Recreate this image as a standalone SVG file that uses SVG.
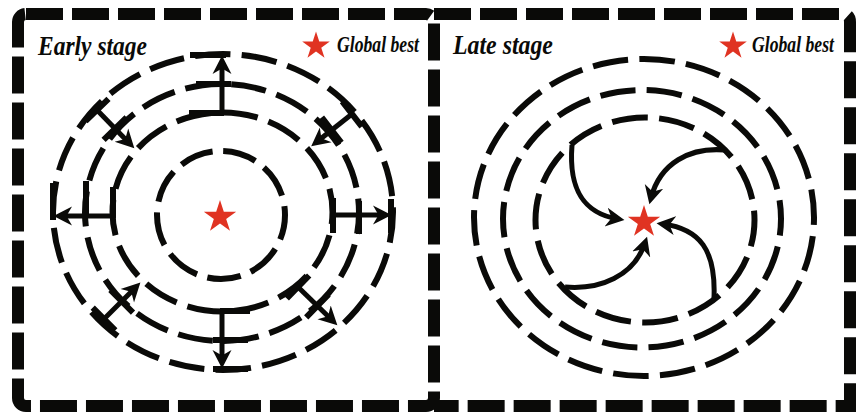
<svg xmlns="http://www.w3.org/2000/svg" xmlns:xlink="http://www.w3.org/1999/xlink" width="858" height="412" viewBox="0 0 858 412">
<defs>
<style>
.border{fill:none;stroke:#0a0a08;stroke-width:12;stroke-dasharray:37 9}
.ring{fill:none;stroke:#0a0a08;stroke-width:6}
.bar{fill:none;stroke:#0a0a08;stroke-width:6;stroke-linecap:butt}
.arr{fill:none;stroke:#0a0a08;stroke-width:5;marker-end:url(#ah)}
.lbl{font-family:"Liberation Serif","Times New Roman",serif;font-weight:bold;font-style:italic;fill:#0a0a08}
.star{fill:#e03322}
</style>
<marker id="ah" markerUnits="userSpaceOnUse" markerWidth="22" markerHeight="22" viewBox="0 -11 22 22" refX="12" refY="0" orient="auto">
<path d="M0,-9.5 L18.5,0 L0,9.5 L5.5,0 Z" fill="#0a0a08"/>
</marker>
<path id="star" d="M0,-1 L0.2245,-0.309 L0.951,-0.309 L0.363,0.118 L0.588,0.809 L0,0.382 L-0.588,0.809 L-0.363,0.118 L-0.951,-0.309 L-0.2245,-0.309 Z"/>
</defs>

<g id="panel-early">
<rect class="border" x="18" y="14" width="416" height="392" rx="8"/>
<text class="lbl" transform="translate(38,55) scale(0.84,1)" x="0" y="0" font-size="28" textLength="129.8" lengthAdjust="spacingAndGlyphs">Early stage</text>
<use xlink:href="#star" class="star" transform="translate(316,46) scale(14.5)"/>
<text class="lbl" transform="translate(337,52) scale(0.74,1)" x="0" y="0" font-size="24" textLength="110.8" lengthAdjust="spacingAndGlyphs">Global best</text>
</g>

<g id="panel-late">
<path class="border" d="M434,14 H842 Q850,14 850,22 V406 H434"/>
<text class="lbl" transform="translate(453,54) scale(0.85,1)" x="0" y="0" font-size="28" textLength="117.6" lengthAdjust="spacingAndGlyphs">Late stage</text>
<use xlink:href="#star" class="star" transform="translate(733,46) scale(14.5)"/>
<text class="lbl" transform="translate(752,52) scale(0.74,1)" x="0" y="0" font-size="24" textLength="110.8" lengthAdjust="spacingAndGlyphs">Global best</text>
</g>

<g id="early-rings">
<ellipse class="ring" cx="223" cy="212" rx="170" ry="158" pathLength="22" stroke-dasharray="0.76 0.24" stroke-dashoffset="0.1"/>
<ellipse class="ring" cx="222" cy="212.5" rx="137" ry="128.5" pathLength="18" stroke-dasharray="0.76 0.24" stroke-dashoffset="0.3"/>
<ellipse class="ring" cx="222.5" cy="212" rx="110" ry="99.5" pathLength="14" stroke-dasharray="0.76 0.24" stroke-dashoffset="0.5"/>
<circle class="ring" cx="221" cy="215" r="64" pathLength="9" stroke-dasharray="0.76 0.24" stroke-dashoffset="0.2"/>
</g>
<g id="early-best">
<use xlink:href="#star" class="star" transform="translate(220,217) scale(17)"/>
</g>

<g id="early-connectors">
<path class="bar" d="M189,113 L224,113 M196,84 L231,84 M190,55 L226,55"/>
<path class="arr" d="M222,113 L222,62"/>
<path class="bar" d="M113,187 L113,218 M86,181 L86,218 M53,183 L53,220"/>
<path class="arr" d="M113,216 L60,216"/>
<path class="bar" d="M220,311 L250,311 M213,340 L248,340 M213,369 L248,369"/>
<path class="arr" d="M222,311 L222,362"/>
<path class="bar" d="M333,198 L333,233 M359,201 L359,234 M391,199 L391,233"/>
<path class="arr" d="M333,215 L385,215"/>
<path class="bar" d="M286.8,298.5 L309.2,275.5 M306.2,317.3 L328.6,294.3"/>
<path class="arr" d="M298,287 L332.7,320.8"/>
<path class="bar" d="M85.5,121.2 L108.5,98.8 M103.6,139.8 L126.6,117.4"/>
<path class="arr" d="M97,110 L129.8,143.7"/>
<path class="bar" d="M361.8,126.6 L342.2,101.4 M341.3,142.6 L321.7,117.4"/>
<path class="arr" d="M352,114 L316.3,142.3"/>
<path class="bar" d="M115.3,330.3 L92.7,307.7 M133,312.6 L110.4,290"/>
<path class="arr" d="M104,319 L135.8,287.2"/>
</g>

<g id="late-rings">
<ellipse class="ring" cx="644" cy="217.5" rx="170" ry="158.5" pathLength="22" stroke-dasharray="0.76 0.24" stroke-dashoffset="0.6"/>
<ellipse class="ring" cx="642" cy="218.75" rx="139" ry="128.75" pathLength="18" stroke-dasharray="0.76 0.24" stroke-dashoffset="0.4"/>
<ellipse class="ring" cx="645" cy="220" rx="109.5" ry="102.5" pathLength="14" stroke-dasharray="0.76 0.24" stroke-dashoffset="0.2"/>
</g>
<g id="late-best">
<use xlink:href="#star" class="star" transform="translate(644,222) scale(17)"/>
</g>

<g id="late-connectors">
<path class="arr" d="M572,145 C568,195 588,214 618,219"/>
<path class="arr" d="M725,150 C690,147 660,163 651,198"/>
<path class="arr" d="M714,298 C716,250 700,229 663,224"/>
<path class="arr" d="M565,287 C600,290 634,276 645,243"/>
</g>
</svg>
